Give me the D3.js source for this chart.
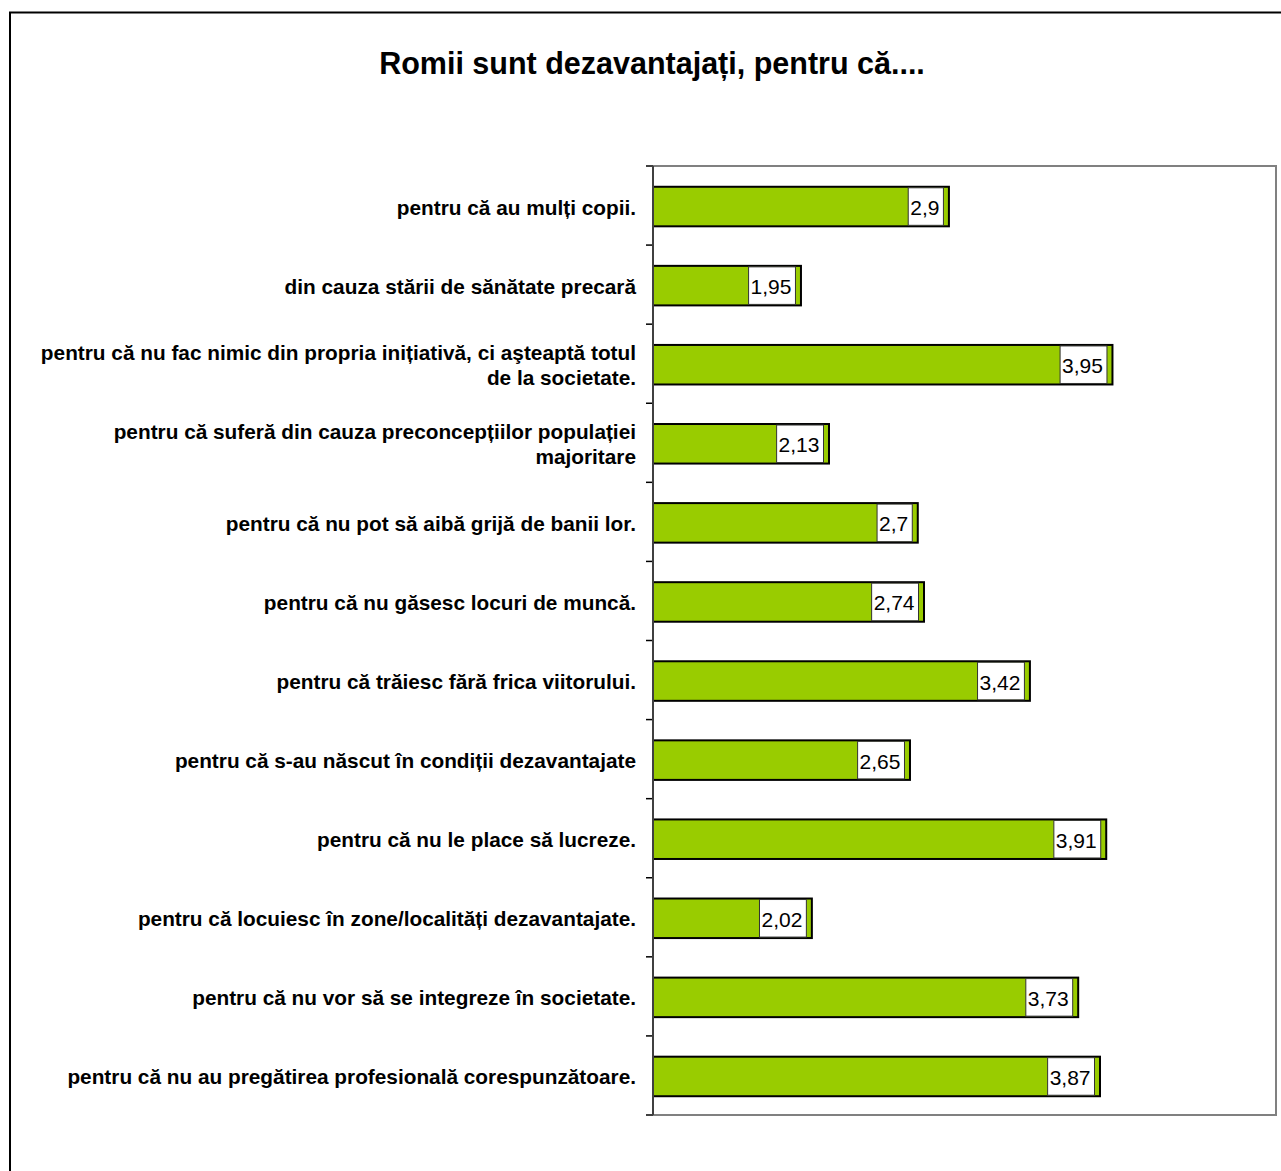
<!DOCTYPE html>
<html>
<head>
<meta charset="utf-8">
<script src="https://cdn.jsdelivr.net/npm/d3@7"></script>
<style>
  html, body { margin: 0; padding: 0; background: #fff; }
  svg { display: block; font-family: Arial, "Liberation Sans", sans-serif; }
</style>
</head>
<body>
<script>
// Reasons why the Roma are disadvantaged – mean agreement scores (scale 1–5)
const chartTitle = "Romii sunt dezavantajați, pentru că....";

const categories = [
  "pentru că au mulți copii.",
  "din cauza stării de sănătate precară",
  "pentru că nu fac nimic din propria inițiativă, ci aşteaptă totul de la societate.",
  "pentru că suferă din cauza preconcepțiilor populației majoritare",
  "pentru că nu pot să aibă grijă de banii lor.",
  "pentru că nu găsesc locuri de muncă.",
  "pentru că trăiesc fără frica viitorului.",
  "pentru că s-au născut în condiții dezavantajate",
  "pentru că nu le place să lucreze.",
  "pentru că locuiesc în zone/localități dezavantajate.",
  "pentru că nu vor să se integreze în societate.",
  "pentru că nu au pregătirea profesională corespunzătoare."
];

const values = [2.9, 1.95, 3.95, 2.13, 2.7, 2.74, 3.42, 2.65, 3.91, 2.02, 3.73, 3.87];

const valueDomain = [1, 5];

const W = 1281, H = 1171;
const plot = { left: 653, top: 166, right: 1276, bottom: 1115 };

const svg = d3.select("body").append("svg")
  .attr("width", W).attr("height", H);

// outer chart frame
svg.append("rect")
  .attr("x", 10).attr("y", 12.5)
  .attr("width", W + 20).attr("height", H + 20)
  .attr("fill", "#fff").attr("stroke", "#000").attr("stroke-width", 2);

// title
svg.append("text")
  .attr("x", 652).attr("y", 74)
  .attr("text-anchor", "middle")
  .attr("font-size", 30.5).attr("font-weight", "bold")
  .text(chartTitle);

const x = d3.scaleLinear().domain(valueDomain).range([plot.left, plot.right]);
const y = d3.scaleBand().domain(categories)
  .range([plot.top, plot.bottom])
  .paddingInner(0.5).paddingOuter(0.25);

// plot area border (top, right, bottom)
svg.append("path")
  .attr("d", `M${plot.left},${plot.top}H${plot.right}V${plot.bottom}H${plot.left}`)
  .attr("fill", "none").attr("stroke", "#808080").attr("stroke-width", 2);

// bars
const g = svg.append("g");
g.selectAll("rect.bar").data(categories).join("rect")
  .attr("class", "bar")
  .attr("x", x(valueDomain[0]))
  .attr("y", d => y(d) + 1)
  .attr("width", (d, i) => x(values[i]) - x(valueDomain[0]))
  .attr("height", y.bandwidth())
  .attr("fill", "#99CC00")
  .attr("stroke", "#000").attr("stroke-width", 2);

// value labels in white boxes at the inner end of each bar
const lab = g.selectAll("g.lab").data(categories).join("g").attr("class", "lab");
lab.each(function (d, i) {
  const sel = d3.select(this);
  const txt = String(values[i]).replace(".", ",");
  const t = sel.append("text")
    .attr("font-size", 21)
    .attr("text-anchor", "end")
    .attr("dominant-baseline", "central")
    .text(txt);
  const tw = t.node().getComputedTextLength();
  const right = x(values[i]) - 5.5;
  const bx = right - tw - 6;
  sel.insert("rect", "text")
    .attr("x", bx).attr("y", y(d) + 2)
    .attr("width", tw + 6).attr("height", y.bandwidth() - 2)
    .attr("fill", "#fff").attr("stroke", "#333").attr("stroke-width", 1);
  t.attr("x", right - 4).attr("y", y(d) + y.bandwidth() / 2 + 2);
});

// category axis with ticks at band boundaries
const step = y.step();
const tickYs = d3.range(categories.length + 1).map(i => plot.top + i * step);
svg.append("g").selectAll("line").data(tickYs).join("line")
  .attr("x1", plot.left - 7).attr("x2", plot.left)
  .attr("y1", d => d).attr("y2", d => d)
  .attr("stroke", "#000").attr("stroke-width", 1.5);
svg.append("line")
  .attr("x1", plot.left).attr("x2", plot.left)
  .attr("y1", plot.top).attr("y2", plot.bottom)
  .attr("stroke", "#404040").attr("stroke-width", 2);

// wrapped category labels
const catG = svg.append("g")
  .attr("font-size", 20.8).attr("font-weight", "bold")
  .attr("text-anchor", "end");
const maxW = 605, lineH = 25;
categories.forEach(c => {
  const t = catG.append("text").attr("x", plot.left - 17);
  const words = c.split(" ");
  const lines = [];
  let cur = "";
  const probe = catG.append("text").attr("visibility", "hidden");
  words.forEach(w => {
    const test = cur ? cur + " " + w : w;
    probe.text(test);
    if (probe.node().getComputedTextLength() > maxW && cur) {
      lines.push(cur); cur = w;
    } else cur = test;
  });
  lines.push(cur);
  probe.remove();
  const cy = y(c) + y.bandwidth() / 2 + 1.5;
  const y0 = cy - (lines.length - 1) * lineH / 2;
  lines.forEach((ln, k) => {
    t.append("tspan").attr("x", plot.left - 17)
      .attr("y", y0 + k * lineH)
      .attr("dominant-baseline", "central")
      .text(ln);
  });
});
</script>
</body>
</html>
